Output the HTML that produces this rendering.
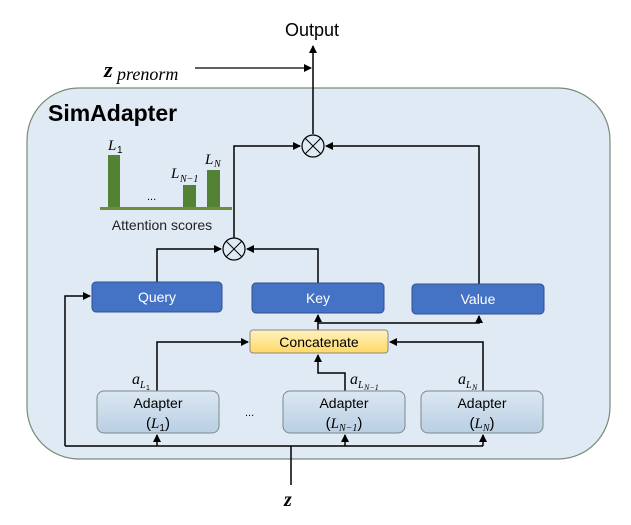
<!DOCTYPE html>
<html><head><style>
html,body{margin:0;padding:0;background:#fff;}
svg{display:block;}
text{font-family:"Liberation Sans",sans-serif;}
.m{font-family:"Liberation Serif",serif;font-style:italic;}
</style></head><body>
<svg width="631" height="525" viewBox="0 0 631 525" xmlns="http://www.w3.org/2000/svg">
<defs>
<marker id="a" markerWidth="8" markerHeight="8" refX="7" refY="4" orient="auto" markerUnits="userSpaceOnUse">
<path d="M0,0 L8,4 L0,8 z" fill="#000"/></marker>
<linearGradient id="g" x1="0" y1="0" x2="0" y2="1"><stop offset="0" stop-color="#fff2c0"/><stop offset="1" stop-color="#ffd966"/></linearGradient>
<linearGradient id="ad" x1="0" y1="0" x2="0" y2="1"><stop offset="0" stop-color="#dbe7f2"/><stop offset="1" stop-color="#b9cfe3"/></linearGradient>
</defs>
<rect x="27" y="88" width="583" height="371" rx="52" fill="#dfeaf4" stroke="#7a8a7a" stroke-width="1.2"/>
<text x="312" y="36" font-size="18" text-anchor="middle">Output</text>
<text x="104" y="77" font-size="22" font-weight="bold" class="m">z</text>
<text x="117" y="80" font-size="18" class="m">prenorm</text>
<line x1="195" y1="68" x2="311" y2="68" stroke="#000" stroke-width="1.3" marker-end="url(#a)"/>
<line x1="313" y1="134" x2="313" y2="46" stroke="#000" stroke-width="1.5" marker-end="url(#a)"/>
<text x="48" y="121" font-size="23" font-weight="bold">SimAdapter</text>
<rect x="108" y="155" width="12" height="53" fill="#548235"/>
<rect x="183" y="185" width="13" height="23" fill="#548235"/>
<rect x="207" y="170" width="13" height="38" fill="#548235"/>
<rect x="100" y="207" width="132" height="3" fill="#6b8e3f"/>
<text x="108" y="150" font-size="15" class="m">L</text><text x="117" y="153" font-size="10" font-family="Liberation Serif">1</text>
<text x="171" y="178" font-size="15" class="m">L</text><text x="180" y="182" font-size="10" class="m">N−1</text>
<text x="205" y="164" font-size="15" class="m">L</text><text x="214" y="167" font-size="10" class="m">N</text>
<text x="147" y="200" font-size="11">...</text>
<text x="162" y="230" font-size="14" text-anchor="middle" fill="#222">Attention scores</text>
<circle cx="313" cy="146" r="11" fill="#dfeaf4" stroke="#000" stroke-width="1.2"/>
<path d="M305,138 L321,154 M321,138 L305,154" stroke="#000"/>
<circle cx="234" cy="249" r="11" fill="#dfeaf4" stroke="#000" stroke-width="1.2"/>
<path d="M226,241 L242,257 M242,241 L226,257" stroke="#000"/>
<polyline points="234,238 234,146 300,146" fill="none" stroke="#000" stroke-width="1.5" marker-end="url(#a)"/>
<polyline points="479,284 479,146 326,146" fill="none" stroke="#000" stroke-width="1.5" marker-end="url(#a)"/>
<polyline points="157,282 157,249 221,249" fill="none" stroke="#000" stroke-width="1.5" marker-end="url(#a)"/>
<polyline points="318,283 318,249 247,249" fill="none" stroke="#000" stroke-width="1.5" marker-end="url(#a)"/>
<rect x="92" y="282" width="130" height="30" rx="4" fill="#4472c4" stroke="#2f528f"/>
<text x="157" y="302" font-size="14" fill="#fff" text-anchor="middle">Query</text>
<rect x="252" y="283" width="132" height="30" rx="4" fill="#4472c4" stroke="#2f528f"/>
<text x="318" y="303" font-size="14" fill="#fff" text-anchor="middle">Key</text>
<rect x="412" y="284" width="132" height="30" rx="4" fill="#4472c4" stroke="#2f528f"/>
<text x="478" y="304" font-size="14" fill="#fff" text-anchor="middle">Value</text>
<line x1="318" y1="330" x2="318" y2="315" stroke="#000" stroke-width="1.5" marker-end="url(#a)"/>
<polyline points="318,323 479,323 479,316" fill="none" stroke="#000" stroke-width="1.5" marker-end="url(#a)"/>
<rect x="250" y="330" width="138" height="23" rx="3" fill="url(#g)" stroke="#888"/>
<text x="319" y="347" font-size="14" text-anchor="middle">Concatenate</text>
<polyline points="157,391 157,342 248,342" fill="none" stroke="#000" stroke-width="1.5" marker-end="url(#a)"/>
<polyline points="345,391 345,373 318,373 318,355" fill="none" stroke="#000" stroke-width="1.5" marker-end="url(#a)"/>
<polyline points="483,391 483,342 390,342" fill="none" stroke="#000" stroke-width="1.5" marker-end="url(#a)"/>
<rect x="97" y="391" width="122" height="42" rx="7" fill="url(#ad)" stroke="#7a8a8a"/>
<rect x="283" y="391" width="122" height="42" rx="7" fill="url(#ad)" stroke="#7a8a8a"/>
<rect x="421" y="391" width="122" height="42" rx="7" fill="url(#ad)" stroke="#7a8a8a"/>
<text x="158" y="408" font-size="14" text-anchor="middle">Adapter</text>
<text x="158" y="428" font-size="15" text-anchor="middle" font-family="Liberation Serif">(<tspan class="m">L</tspan><tspan font-size="10" dy="3">1</tspan><tspan dy="-3">)</tspan></text>
<text x="344" y="408" font-size="14" text-anchor="middle">Adapter</text>
<text x="344" y="428" font-size="15" text-anchor="middle" font-family="Liberation Serif">(<tspan class="m">L</tspan><tspan font-size="10" dy="3" class="m">N−1</tspan><tspan dy="-3">)</tspan></text>
<text x="482" y="408" font-size="14" text-anchor="middle">Adapter</text>
<text x="482" y="428" font-size="15" text-anchor="middle" font-family="Liberation Serif">(<tspan class="m">L</tspan><tspan font-size="10" dy="3" class="m">N</tspan><tspan dy="-3">)</tspan></text>
<text x="245" y="416" font-size="11">...</text>
<text x="132" y="384" font-size="16" class="m">a</text><text x="140" y="388" font-size="10" class="m">L</text><text x="146" y="390" font-size="7">1</text>
<text x="350" y="384" font-size="16" class="m">a</text><text x="358" y="388" font-size="10" class="m">L</text><text x="364" y="390" font-size="8" class="m">N−1</text>
<text x="458" y="384" font-size="16" class="m">a</text><text x="466" y="388" font-size="10" class="m">L</text><text x="472" y="390" font-size="8" class="m">N</text>
<polyline points="65,446 65,296 90,296" fill="none" stroke="#000" stroke-width="1.5" marker-end="url(#a)"/>
<line x1="65" y1="446" x2="483" y2="446" stroke="#000" stroke-width="1.5"/>
<line x1="157" y1="446" x2="157" y2="435" stroke="#000" stroke-width="1.5" marker-end="url(#a)"/>
<line x1="345" y1="446" x2="345" y2="435" stroke="#000" stroke-width="1.5" marker-end="url(#a)"/>
<line x1="483" y1="446" x2="483" y2="435" stroke="#000" stroke-width="1.5" marker-end="url(#a)"/>
<line x1="291" y1="446" x2="291" y2="485" stroke="#000" stroke-width="1.5"/>
<text x="284" y="506" font-size="20" font-weight="bold" class="m">z</text>
</svg>
</body></html>
